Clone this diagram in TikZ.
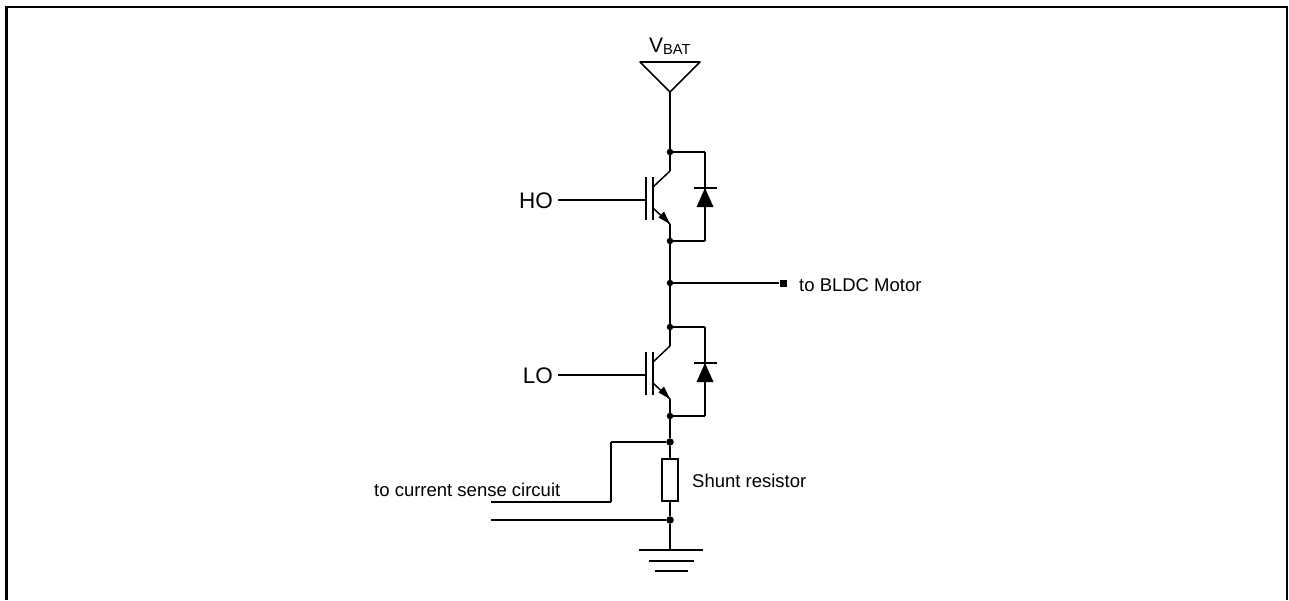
\documentclass[tikz,border=0pt]{standalone}
\usepackage{fontspec}
\setmainfont{Liberation Sans}
\tikzset{
  x=1pt,y=-1pt,
  wire/.style={line width=1.2pt,black},
  slant/.style={line width=1.5pt,black},
  junction/.style={circle,fill=black,inner sep=0pt,minimum size=6.5pt},
  bigjunction/.style={circle,fill=black,inner sep=0pt,minimum size=7.5pt},
  term/.style={rectangle,fill=black,inner sep=0pt,minimum size=7pt},
  biglabel/.style={inner sep=0pt,font=\fontsize{22.5}{26}\selectfont},
  smalllabel/.style={inner sep=0pt,font=\fontsize{18.5}{22}\selectfont},
  shunt/.style={draw,line width=1.2pt,fill=white,minimum width=16pt,minimum height=42pt,inner sep=0pt},
}
\begin{document}
\begin{tikzpicture}
\useasboundingbox (0,0) rectangle (1289,600);
% frame
\draw[line width=2.5pt] (6.5,600) -- (6.5,7) -- (1287,7) -- (1287,600);
% supply
\coordinate (vapex) at (670,92);
\draw[wire] (640,62) -- (700,62);
\draw[slant,line cap=round] (640,62) -- (vapex) -- (700,62);
\node[inner sep=0pt,anchor=base west,font=\fontsize{21}{24}\selectfont] (vbat) at (649,52) {V\raisebox{-2.5pt}{\fontsize{14.6}{17}\selectfont BAT}};
% junctions
\node[junction] (j1) at (670,152) {};
\node[junction] (j2) at (670,241) {};
\node[junction] (j3) at (670,283) {};
\node[junction] (j4) at (670,327) {};
\node[junction] (j5) at (670,416) {};
\node[bigjunction] (j6) at (670,442) {};
\node[bigjunction] (j7) at (670,520) {};
% high side
\node[biglabel,anchor=base east] (ho) at (553,208) {HO};
\coordinate (hgate) at (646,200);
\coordinate (hc) at (670,171);
\coordinate (he) at (670,224);
\draw[wire] (558,200) -- (hgate);
\draw[wire] (646,177) -- (646,220);
\draw[wire] (653,177) -- (653,220);
\draw[wire] (j1) -- (hc);
\draw[slant] (hc) -- (653,187);
\draw[slant] (653,208) -- (he);
\draw[wire] (he) -- (j2);
\fill (he) -- (658.5,217.5) -- (664,211.5) -- cycle;
\draw[wire] (j1) -- (705,152);
\draw[wire] (705,152) -- (705,241);
\draw[wire] (705,241) -- (j2);
\draw[wire] (694,188) -- (717,188);
\fill (705,188) -- (713.5,207) -- (696.5,207) -- cycle;
% low side
\node[biglabel,anchor=base east] (lo) at (553,383) {LO};
\coordinate (lgate) at (646,375);
\coordinate (lc) at (670,346);
\coordinate (le) at (670,399);
\draw[wire] (558,375) -- (lgate);
\draw[wire] (646,352) -- (646,395);
\draw[wire] (653,352) -- (653,395);
\draw[wire] (j4) -- (lc);
\draw[slant] (lc) -- (653,362);
\draw[slant] (653,383) -- (le);
\draw[wire] (le) -- (j5);
\fill (le) -- (658.5,392.5) -- (664,386.5) -- cycle;
\draw[wire] (j4) -- (705,327);
\draw[wire] (705,327) -- (705,416);
\draw[wire] (705,416) -- (j5);
\draw[wire] (694,363) -- (717,363);
\fill (705,363) -- (713.5,382) -- (696.5,382) -- cycle;
% main rail
\draw[wire] (vapex) -- (j1);
\draw[wire] (j2) -- (j3);
\draw[wire] (j3) -- (j4);
\draw[wire] (j5) -- (j6);
% motor output
\node[term] (motor) at (783,283) {};
\draw[wire] (j3) -- (motor);
\node[smalllabel,anchor=base west] (motorlabel) at (799,291) {to BLDC Motor};
% shunt
\node[shunt] (rs) at (670,480) {};
\draw[wire] (j6) -- (rs);
\draw[wire] (rs) -- (j7);
\node[smalllabel,anchor=base west] (rslabel) at (692,487) {Shunt resistor};
% sense
\coordinate (s1) at (491,502);
\coordinate (s2) at (491,520);
\coordinate (c1) at (611,442);
\coordinate (c2) at (611,502);
\draw[wire] (j6) -- (c1);
\draw[wire] (c1) -- (c2);
\draw[wire] (c2) -- (s1);
\draw[wire] (s2) -- (j7);
\node[smalllabel,anchor=base west] (senselabel) at (374,496) {to current sense circuit};
% ground
\coordinate (gnd) at (670,550);
\draw[wire] (j7) -- (gnd);
\draw[wire] (639,550) -- (703,550);
\draw[wire] (649,561) -- (694,561);
\draw[wire] (655,571) -- (688,571);
\end{tikzpicture}
\end{document}
